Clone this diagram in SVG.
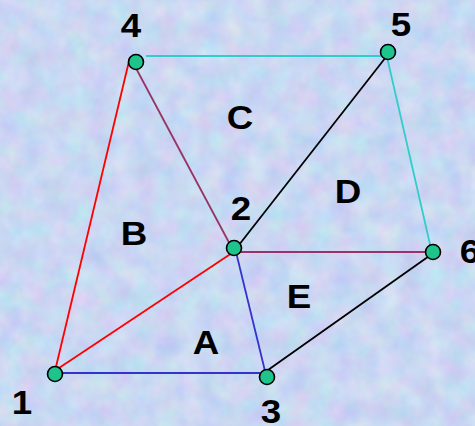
<svg xmlns="http://www.w3.org/2000/svg" width="475" height="426" viewBox="0 0 475 426">
<defs>
<filter id="tex" x="0" y="0" width="100%" height="100%" color-interpolation-filters="sRGB">
<feTurbulence type="fractalNoise" baseFrequency="0.045" numOctaves="3" seed="7" result="n"/>
<feColorMatrix in="n" type="matrix" values="0.2 0 0 0 0.69  0 0.15 0 0 0.77  0 0 0.06 0 0.92  0 0 0 0 1"/>
</filter>
<style>
.lbl{font-family:"Liberation Sans",Arial,sans-serif;font-weight:bold;font-size:34px;fill:#000;text-anchor:middle}
.nd{fill:#1fc48c;stroke:#000;stroke-width:1.6}
.e{stroke-width:1.8;fill:none}
</style>
</defs>
<rect width="475" height="426" fill="#c8d6f2"/>
<rect id="bg" width="475" height="426" filter="url(#tex)"/>
<g id="connectors">
<line class="e" x1="146" y1="56" x2="387" y2="56" stroke="#33cccc"/>
<line class="e" x1="387" y1="57" x2="432" y2="253" stroke="#33cccc"/>
<line class="e" x1="55" y1="371" x2="130" y2="57" stroke="#ff0000"/>
<line class="e" x1="56" y1="370" x2="235" y2="251" stroke="#ff0000"/>
<line class="e" x1="130" y1="57" x2="233" y2="250" stroke="#993366"/>
<line class="e" x1="237" y1="252" x2="430" y2="252" stroke="#993366"/>
<line class="e" x1="235" y1="250" x2="386" y2="57" stroke="#000000"/>
<line class="e" x1="268" y1="370" x2="432" y2="254" stroke="#000000"/>
<line class="e" x1="58" y1="373" x2="265" y2="373" stroke="#3333cc"/>
<line class="e" x1="236" y1="252" x2="265" y2="371" stroke="#3333cc"/>
</g>
<g id="n1"><circle class="nd" cx="55" cy="374" r="7.5"/><text class="lbl" transform="translate(22 414) scale(1.08 1)">1</text></g>
<g id="n2"><circle class="nd" cx="234" cy="248" r="7.5"/><text class="lbl" transform="translate(241 220) scale(1.08 1)">2</text></g>
<g id="n3"><circle class="nd" cx="267" cy="377" r="7.5"/><text class="lbl" transform="translate(271 423) scale(1.08 1)">3</text></g>
<g id="n4"><circle class="nd" cx="136" cy="62" r="7.5"/><text class="lbl" transform="translate(131 37) scale(1.08 1)">4</text></g>
<g id="n5"><circle class="nd" cx="388" cy="52" r="7.5"/><text class="lbl" transform="translate(401 36) scale(1.08 1)">5</text></g>
<g id="n6"><circle class="nd" cx="433" cy="252" r="7.5"/><text class="lbl" transform="translate(470 263) scale(1.08 1)">6</text></g>
<g id="regions">
<text class="lbl" transform="translate(206 354) scale(1.08 1)">A</text>
<text class="lbl" transform="translate(134 245) scale(1.08 1)">B</text>
<text class="lbl" transform="translate(240 129) scale(1.08 1)">C</text>
<text class="lbl" transform="translate(348 203) scale(1.08 1)">D</text>
<text class="lbl" transform="translate(299 308) scale(1.08 1)">E</text>
</g>
</svg>
